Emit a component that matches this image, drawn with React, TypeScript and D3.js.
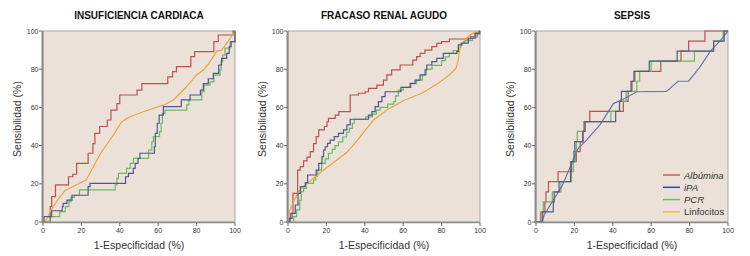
import React from 'react';
import * as d3 from 'd3';

type P = [number, number];

const tickValues = [0, 20, 40, 60, 80, 100];
const legendNames = ['Albúmina', 'iPA', 'PCR', 'Linfocitos'];
const panelTitles = ['INSUFICIENCIA CARDIACA', 'FRACASO RENAL AGUDO', 'SEPSIS'];

// Panel 1: Insuficiencia cardiaca
const icAlbumina: P[] = [[0,0],[3.8,8],[4.5,13.3],[6.5,19.4],[13.3,23.7],[15.5,25],[17.5,30.7],[23.5,36],[26,41],[27,46.4],[29.5,50],[33.5,53.4],[35.4,58.6],[38.5,62],[40,66.5],[49,69],[51.5,72.4],[65,76],[67.5,78.7],[69.5,81.3],[77,86.6],[79,89.2],[89,94.4],[91.3,97.9],[99,100],[100,100]];
const icIPA: P[] = [[0,0],[0.5,2.8],[4.5,5.9],[10,8],[10.5,9.8],[12.5,11.5],[15.1,14],[23.5,18.5],[24.5,20.2],[43,23.7],[44.5,25.5],[47,28.1],[48,30.7],[49.5,33.3],[50.5,36],[58,39.4],[58.5,46.4],[59.5,51.7],[60.5,56],[62.7,60.4],[72,63.9],[76.6,66.5],[82,69],[83.5,72.4],[86.1,75],[88.7,77.8],[91.5,82.2],[93,85.7],[95.7,88.3],[97,91.8],[98,94.4],[100,100]];
const icPCR: P[] = [[0,0],[3.5,2.8],[8.7,5.4],[11.6,8],[13.5,10.6],[14.5,12.9],[16.3,14],[19,16.8],[37.6,19.4],[38.5,22.8],[39.3,25.5],[43.5,28.1],[45.4,30.7],[47.1,33.3],[55,37.7],[56.7,42],[57.5,44.7],[60.7,47.3],[61.5,51.7],[62.2,56.9],[63.6,58.6],[74.9,61.3],[76,63.9],[82.7,68.2],[83.9,71.7],[87,73.4],[89,76.9],[92.2,79.6],[92.8,84],[93.6,87.4],[94.8,91],[97.4,94.4],[100,100]];
const icLinfocitos: P[] = [[0,0],[2,1.5],[4,6],[8,12],[11.5,16.5],[22.5,22],[30,36],[37,46],[41,52.5],[45,55],[53,58],[63,61.3],[68,64],[74,70],[80,77],[84,80],[87,84],[90.5,89.5],[93,90],[96,94],[100,100]];

// Panel 2: Fracaso renal agudo
const fraAlbumina: P[] = [[0,0],[1.2,4.5],[2.6,15],[5,27.2],[6.4,29],[8.1,32],[9.9,34],[11.6,36.8],[13.3,41],[14.7,44.7],[16,48.2],[18.9,50],[20.3,52.5],[21.1,54.3],[24.6,56],[26.5,57.8],[32.4,66.5],[36.7,67.4],[40.2,68.2],[41.9,70],[46.3,71.7],[49.7,74.3],[51.5,77],[54,79.6],[58.4,82.2],[65,84.8],[67,86.6],[68.8,88.3],[71.3,90],[74.9,91.8],[77.5,93.5],[80,94.4],[84,95.8],[95,97],[98.5,98.5],[100,100]];
const fraIPA: P[] = [[0,0],[0.7,1.9],[2.1,4.5],[3.8,8.9],[5.2,15],[6.4,18.5],[9,20.6],[10.2,24.6],[14.7,27.2],[16,30.7],[17.7,34.2],[18.5,37.7],[19.4,39.4],[20.6,41.2],[22,42.9],[24.1,44.7],[26.3,46.4],[28.9,48.2],[30.7,50.8],[32.4,53.8],[41.9,56],[43.7,57.8],[45.4,60.4],[47.1,63],[48.9,65.6],[50.6,68.2],[58.8,70.5],[63.6,72.6],[66.2,74.3],[68.8,77],[71.4,79.6],[72.3,82.2],[74.9,84],[77.5,85.7],[80.9,88.3],[87.9,89.2],[88.7,92.7],[90.5,93.6],[93.9,96.2],[97.4,98.8],[99.6,100],[100,100]];
const fraPCR: P[] = [[0,0],[3,2.8],[4.5,6.3],[6.1,11.5],[6.9,15.9],[8.1,17.6],[9.5,20.2],[13.3,22],[14.5,24],[15.5,27.2],[17.5,30.7],[19.4,33],[21.1,36],[23,38],[24.5,40],[26.3,42],[28.5,44.5],[30.5,47],[32,49],[33.5,51.7],[34.5,53.8],[40.5,55],[44,56.5],[46,58.6],[48,60],[52,61.7],[55,63],[56,66],[57.5,69],[60,70.5],[64,72.5],[67,74.3],[70,77],[72,80],[75,82],[80,84.5],[82,86.5],[84,88.3],[86,89.8],[89,91.5],[90,93.5],[92,95],[96,96.5],[98,99],[100,100]];
const fraLinfocitos: P[] = [[0,3.7],[1,6],[2.9,10.6],[5.5,15.9],[9,19.4],[13.3,22.9],[18.5,27.2],[25.5,32.5],[30.7,36.5],[35.9,42.5],[40.2,48],[44.5,53.4],[51.5,58.6],[60,63.5],[70,67.5],[78,72.5],[84,77],[87.5,80.5],[88.7,85],[89.5,91],[92,95.3],[95.7,98.5],[100,100]];

// Panel 3: Sepsis
const sepAlbumina: P[] = [[0,0],[2.5,5.3],[4.6,10.5],[5.2,15.8],[6.5,21.1],[11.5,26.3],[18,31.6],[21,36.8],[23,42.1],[24.3,47.4],[25,52.6],[28,57.9],[45.5,63.2],[48,68.4],[50,73.7],[51.5,78.9],[65,84.2],[75.5,89.5],[79.5,94.7],[88,100],[100,100]];
const sepIPA: P[] = [[0,0],[3.5,5.3],[9,10.5],[9.5,15.8],[12,21.1],[18,26.3],[18.5,31.6],[19.8,36.8],[20.2,42.1],[24.5,47.4],[25.5,52.6],[41.5,57.9],[43.5,63.2],[44.5,68.4],[49.5,73.7],[51,78.9],[59,84.2],[73.5,89.5],[92.5,94.7],[98,100],[100,100]];
const sepPCR: P[] = [[0,0],[3.2,5.3],[3.8,10.5],[8.5,15.8],[13,21.1],[18.5,26.3],[19.5,31.6],[20.5,36.8],[21,42.1],[21.5,47.4],[25.5,52.6],[39,57.9],[43.5,63.2],[47,68.4],[52.5,73.7],[54,78.9],[60,84.2],[82.5,89.5],[92.5,94.7],[97.5,100],[100,100]];
const sepLinfocitos: P[] = [[0,0],[3,0],[4.3,3.7],[9,11.5],[13.4,18.5],[18.6,30.7],[20.5,35.5],[22,38.6],[26.4,43],[33.4,51],[40.3,62],[46.4,64.8],[52.5,68.2],[68,68.4],[74,73.7],[79.5,73.7],[85.6,81.5],[90.8,89.5],[96,95],[100,100]];

const RED = '#B9534C';
const NAVY = '#4E5790';
const GREEN = '#6CB862';
const ORANGE = '#EBA53C';

type S = { data: P[]; color: string; step: boolean };

const panels: { title: string; left: number; series: S[]; legend?: boolean }[] = [
  { title: panelTitles[0], left: 43, series: [
    { data: icAlbumina, color: RED, step: true },
    { data: icPCR, color: GREEN, step: true },
    { data: icLinfocitos, color: ORANGE, step: false },
    { data: icIPA, color: NAVY, step: true },
  ] },
  { title: panelTitles[1], left: 288, series: [
    { data: fraAlbumina, color: RED, step: true },
    { data: fraPCR, color: GREEN, step: true },
    { data: fraLinfocitos, color: ORANGE, step: false },
    { data: fraIPA, color: NAVY, step: true },
  ] },
  { title: panelTitles[2], left: 536, legend: true, series: [
    { data: sepAlbumina, color: RED, step: true },
    { data: sepPCR, color: GREEN, step: true },
    { data: sepLinfocitos, color: '#6E73B2', step: false },
    { data: sepIPA, color: '#505C80', step: true },
  ] },
];

const legendColors = ['#C65F58', '#2D4B90', '#6DBE6A', '#F2BC3C'];

const PW = 192;
const TOP = 31;
const BOTTOM = 222;
const FONT = "'Liberation Sans', Arial, Helvetica, sans-serif";

export default function App() {
  return (
    <div style={{ position: 'absolute', left: 0, top: 0 }}>
      <svg width={750} height={256} style={{ display: 'block', background: '#fff' }} fontFamily={FONT}>
        {panels.map((p, pi) => {
          const x = d3.scaleLinear().domain([0, 100]).range([p.left, p.left + PW]);
          const y = d3.scaleLinear().domain([0, 100]).range([BOTTOM, TOP]);
          const stepLine = d3.line<P>().x(d => x(d[0])).y(d => y(d[1])).curve(d3.curveStepAfter);
          const smoothLine = d3.line<P>().x(d => x(d[0])).y(d => y(d[1])).curve(d3.curveLinear);
          const cx = p.left + PW / 2;
          return (
            <g key={pi}>
              <rect x={x(0)} y={y(100)} width={PW} height={BOTTOM - TOP} fill="#EBE1D9" stroke="#A8A8A8" strokeWidth={1} />
              {p.series.map((s, si) => (
                <path key={si} d={(s.step ? stepLine : smoothLine)(s.data) || ''} fill="none" stroke={s.color} strokeWidth={1.2} />
              ))}
              <line x1={x(0) - 0.5} x2={x(0) - 0.5} y1={TOP} y2={BOTTOM + 1} stroke="#8C8C8C" strokeWidth={2} />
              <line x1={x(0) - 1} x2={x(100)} y1={BOTTOM + 0.5} y2={BOTTOM + 0.5} stroke="#8C8C8C" strokeWidth={1.5} />
              {tickValues.map(t => (
                <g key={'y' + t}>
                  <line x1={x(0) - 4} x2={x(0) - 1} y1={y(t)} y2={y(t)} stroke="#666" strokeWidth={1} />
                  <text x={x(0) - 4.5} y={y(t) + 2.5} fontSize={7} textAnchor="end" fill="#333">{t}</text>
                </g>
              ))}
              {tickValues.map(t => (
                <g key={'x' + t}>
                  <line x1={x(t)} x2={x(t)} y1={BOTTOM + 1} y2={BOTTOM + 4} stroke="#666" strokeWidth={1} />
                  <text x={x(t)} y={BOTTOM + 10.5} fontSize={7} textAnchor="middle" fill="#333">{t}</text>
                </g>
              ))}
              <text x={cx} y={19} fontSize={10} fontWeight="bold" textAnchor="middle" fill="#111">{p.title}</text>
              <text x={cx} y={249} fontSize={10.5} textAnchor="middle" fill="#333">1-Especificidad (%)</text>
              <text transform={`translate(${p.left - 22},119) rotate(-90)`} fontSize={10.5} textAnchor="middle" fill="#333">Sensibilidad (%)</text>
              {p.legend && legendNames.map((n, li) => (
                <g key={n}>
                  <line x1={663} x2={680} y1={175 + li * 12.3} y2={175 + li * 12.3} stroke={legendColors[li]} strokeWidth={1.5} />
                  <text x={684} y={178.5 + li * 12.3} fontSize={9.5} fontStyle={li < 3 ? 'italic' : 'normal'} fill="#333">{n}</text>
                </g>
              ))}
            </g>
          );
        })}
      </svg>
    </div>
  );
}
